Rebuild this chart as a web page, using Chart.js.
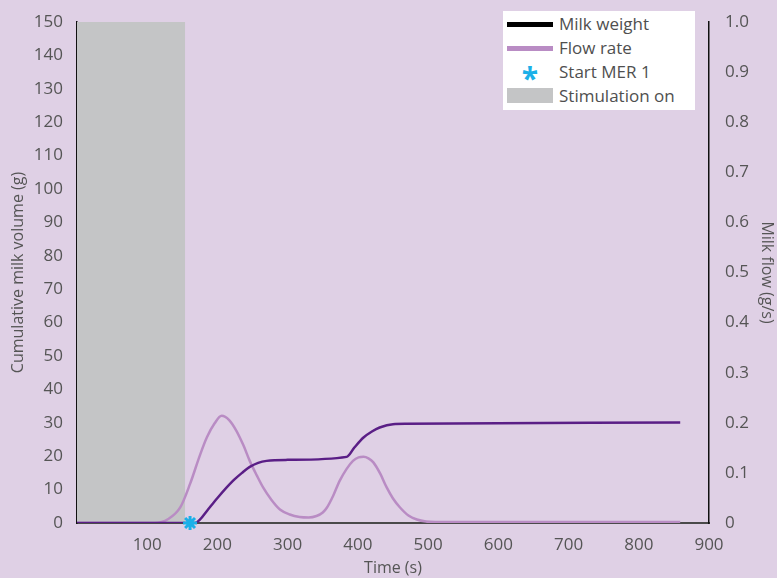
<!DOCTYPE html>
<html lang="en">
<head>
    <meta charset="UTF-8">
    <title>Milk weight and flow rate</title>
    <script src="https://cdn.jsdelivr.net/npm/chart.js"></script>
    <style>
        html, body { margin: 0; padding: 0; background: #dfd0e5; }
        #wrap { position: relative; width: 777px; height: 578px; }
        #legend { position: absolute; left: 503px; top: 11px; width: 192px; height: 99px; background: #fff;
                  font-family: "Open Sans", sans-serif; font-size: 17px; color: #4f4f4f; }
        .row { position: absolute; left: 0; height: 24px; line-height: 24px; }
        .row span.t { position: absolute; left: 56px; white-space: nowrap; }
        .sw { position: absolute; left: 4px; width: 46px; }
    </style>
</head>
<body>
<div id="wrap">
    <canvas id="chartMilk" width="777" height="578"></canvas>
    <div id="legend">
        <div class="row" style="top:1px"><div class="sw" style="top:10px;height:5px;background:#000"></div><span class="t">Milk weight</span></div>
        <div class="row" style="top:25px"><div class="sw" style="top:10px;height:5px;background:#b98cc4"></div><span class="t">Flow rate</span></div>
        <div class="row" style="top:49px"><div class="sw" style="top:2px;text-align:center;color:#1bb0e8;font-size:30px;font-weight:bold;line-height:32px">*</div><span class="t">Start MER 1</span></div>
        <div class="row" style="top:73px"><div class="sw" style="top:4px;height:15px;background:#c4c5c6"></div><span class="t">Stimulation on</span></div>
    </div>
</div>
<script>
    // datos
    const weightTime = [0, 168, 175, 185, 200, 222, 235, 246, 258, 270, 300, 384, 395, 408, 420, 431, 450, 470, 859];
    const weightVal  = [0, 0, 1.0, 3.6, 7.5, 12.6, 15.0, 16.8, 18.0, 18.6, 18.9, 19.8, 22.6, 25.6, 27.4, 28.6, 29.6, 29.7, 30.1];

    const flowTime = [0, 110, 130, 147, 161, 175, 185, 196, 206, 217, 227, 237, 246, 256, 265, 277, 289, 303, 317, 330, 341, 350, 356, 365, 374, 384, 393, 401, 408, 415, 422, 432, 441, 450, 460, 472, 484, 497, 510, 600, 859];
    const flowVal  = [0, 0, 0.008, 0.031, 0.078, 0.135, 0.171, 0.199, 0.214, 0.205, 0.184, 0.155, 0.124, 0.095, 0.071, 0.046, 0.027, 0.017, 0.012, 0.011, 0.014, 0.021, 0.031, 0.055, 0.084, 0.108, 0.124, 0.131, 0.132, 0.129, 0.121, 0.098, 0.071, 0.049, 0.031, 0.015, 0.007, 0.003, 0.002, 0.002, 0.002];

    const stimStart = 0;
    const stimEnd = 154;
    const stimTop = 150;
    const merTime = 161;

    const xTicks = [100, 200, 300, 400, 500, 600, 700, 800, 900];

    const font = { family: '"Open Sans", sans-serif', size: 17 };
    const textColor = '#555';

    const pts = (xs, ys) => xs.map((x, i) => ({ x: x, y: ys[i] }));

    const ctx = document.getElementById('chartMilk').getContext('2d');
    new Chart(ctx, {
        type: 'line',
        data: {
            datasets: [
                {
                    label: 'Milk weight',
                    data: pts(weightTime, weightVal),
                    yAxisID: 'y',
                    borderColor: '#5a1e86',
                    borderWidth: 2.5,
                    pointRadius: 0,
                    cubicInterpolationMode: 'monotone',
                    order: 2
                },
                {
                    label: 'Flow rate',
                    data: pts(flowTime, flowVal),
                    yAxisID: 'y2',
                    borderColor: '#b98cc4',
                    borderWidth: 2.5,
                    pointRadius: 0,
                    cubicInterpolationMode: 'monotone',
                    order: 3
                },
                {
                    label: 'Start MER 1',
                    type: 'scatter',
                    data: [{ x: merTime, y: 0 }],
                    yAxisID: 'y',
                    pointStyle: 'star',
                    radius: 7,
                    borderColor: '#1bb0e8',
                    borderWidth: 3,
                    clip: false,
                    order: 1
                },
                {
                    label: 'Stimulation on',
                    data: [{ x: stimStart, y: stimTop }, { x: stimEnd, y: stimTop }],
                    yAxisID: 'y',
                    borderWidth: 0,
                    pointRadius: 0,
                    backgroundColor: '#c4c5c6',
                    fill: 'origin',
                    order: 5
                }
            ]
        },
        options: {
            responsive: false,
            animation: false,
            layout: { padding: { top: 22, left: 0, right: 0, bottom: 0 } },
            plugins: { legend: { display: false }, tooltip: { enabled: false } },
            scales: {
                x: {
                    type: 'linear',
                    min: 0, max: 900,
                    grid: { display: false },
                    border: { color: '#4a4a4a', width: 2 },
                    afterBuildTicks: (s) => { s.ticks = xTicks.map(v => ({ value: v })); },
                    afterFit: (s) => { s.height = 55; },
                    ticks: { font: font, color: textColor, padding: 4, maxRotation: 0 },
                    title: { display: true, text: 'Time (s)', font: { family: font.family, size: 16 }, color: textColor, padding: 0 }
                },
                y: {
                    position: 'left',
                    min: 0, max: 150,
                    grid: { display: false },
                    border: { color: '#111', width: 1.5 },
                    afterFit: (s) => { s.width = 77; },
                    ticks: { stepSize: 10, font: font, color: textColor, padding: 6 },
                    title: { display: true, text: 'Cumulative milk volume (g)', font: { family: font.family, size: 16 }, color: textColor, padding: { top: 9, bottom: 0 } }
                },
                y2: {
                    position: 'right',
                    min: 0, max: 1,
                    grid: { display: false },
                    border: { color: '#111', width: 1.5 },
                    afterFit: (s) => { s.width = 68; },
                    ticks: { stepSize: 0.1, font: font, color: textColor, padding: 8,
                             callback: (v) => v === 0 ? '0' : v.toFixed(1) },
                    title: { display: true, text: 'Milk flow (g/s)', font: { family: font.family, size: 16 }, color: textColor, padding: { top: 1, bottom: 0 } }
                }
            }
        }
    });
</script>
</body>
</html>
